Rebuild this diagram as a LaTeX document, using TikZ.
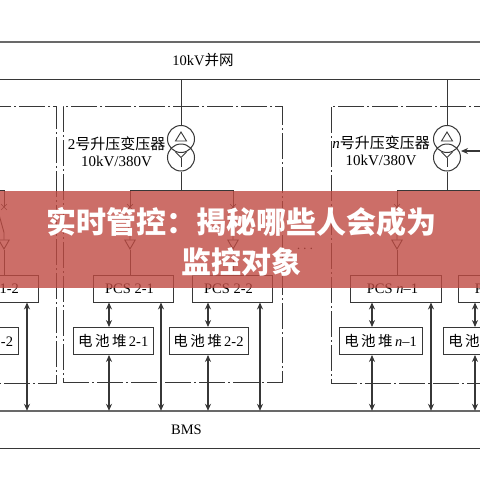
\documentclass[tikz,border=0pt]{standalone}
\usepackage{fontspec}
\usetikzlibrary{shapes.geometric,shapes.misc,arrows.meta,positioning}
\setmainfont{Liberation Serif}
\newfontfamily\cjk{Noto Sans CJK SC}
\definecolor{linegray}{RGB}{55,55,55}
\definecolor{heavygray}{RGB}{105,105,105}
\definecolor{bannerred}{RGB}{191,74,66}
\tikzstyle{wire} = [draw=linegray, line width=0.9pt]
\tikzstyle{heavy} = [draw=heavygray, line width=1.5pt]
\tikzstyle{label} = [align=center, font=\fontsize{15}{17}\selectfont, inner sep=0pt]
\tikzstyle{block} = [rectangle, draw=linegray, line width=0.9pt, align=center, inner sep=0pt,
                     minimum height=27pt, font=\fontsize{14.5}{17}\selectfont]
\tikzstyle{band} = [rectangle, inner sep=0pt, minimum width=700pt, minimum height=37pt,
                    font=\fontsize{14.5}{17}\selectfont]
\tikzstyle{groupbox} = [rectangle, draw=linegray, line width=1pt, inner sep=0pt,
                        dash pattern=on 26pt off 3pt on 2pt off 3pt]
\tikzstyle{coil} = [circle, draw=linegray, line width=1pt, inner sep=0pt, minimum size=27pt]
\tikzstyle{tip} = [regular polygon, regular polygon sides=3, shape border rotate=180,
                   draw=linegray, line width=0.9pt, inner sep=0pt, minimum size=12pt]
\tikzstyle{cross} = [cross out, draw=linegray, line width=0.7pt, inner sep=0pt, minimum size=5pt]
\tikzstyle{arrow} = [-{Stealth[length=7pt,width=6pt]}, wire, line width=1.1pt]
\tikzstyle{biarrow} = [{Stealth[length=7pt,width=6pt]}-{Stealth[length=7pt,width=6pt]}, wire, line width=1.1pt]
\begin{document}
\begin{tikzpicture}[x=1pt, y=-1pt]
    \useasboundingbox (0,0) rectangle (480,480);
    \clip (0,0) rectangle (480,480);

    % grid and BMS bands
    \node [band] (top) at (203,60.5) {10kV{\cjk 并网}};
    \node [band] (bms) at (186.5,429.5) {BMS};
    \draw [heavy] (top.north west) -- (top.north east);
    \draw [wire] (top.south west) -- (top.south east);
    \draw [heavy] (bms.north west) -- (bms.north east);
    \draw [wire] (bms.south west) -- (bms.south east);

    % station frames
    \node [groupbox, minimum width=256pt, minimum height=277pt] (grp1) at (-72,244.5) {};
    \node [groupbox, minimum width=219pt, minimum height=276pt] (grp2) at (172.5,244) {};
    \node [groupbox, minimum width=269pt, minimum height=277pt] (grpn) at (465.5,244.5) {};

    % PCS and battery stacks
    \node [block, minimum width=80pt] (pcs12) at (-2,288.5) {PCS 1-2\hspace*{7pt}};
    \node [block, minimum width=80pt] (bat12) at (-22,341) {{\cjk 电\,池\,堆\,}1-2};
    \node [block, minimum width=80pt] (pcs21) at (133,288.5) {PCS 2-1\hspace*{7pt}};
    \node [block, minimum width=79.5pt] (bat21) at (113.25,341) {{\cjk 电\,池\,堆\,}2-1};
    \node [block, minimum width=80pt] (pcs22) at (232,288.5) {PCS 2-2\hspace*{7pt}};
    \node [block, minimum width=79pt] (bat22) at (208.5,341) {{\cjk 电\,池\,堆\,}2-2};
    \node [block, minimum width=91pt] (pcsn1) at (395.5,288.5) {PCS \textit{n}--1\hspace*{6pt}};
    \node [block, minimum width=83pt] (batn1) at (380.5,341) {{\cjk 电\,池\,堆\,}\textit{n}--1};
    \node [block, minimum width=91pt] (pcsn2) at (503.5,288.5) {PCS \textit{n}--2\hspace*{6pt}};
    \node [block, minimum width=83pt] (batn2) at (484.5,341) {{\cjk 电\,池\,堆\,}\textit{n}--2};

    \foreach \p/\x in {pcs12/27, pcs21/161, pcs22/260, pcsn1/431} {
      \coordinate (tap) at (\x,0 |- bms.north);
      \draw [biarrow] (\p.south -| tap) -- (tap);
    }
    \foreach \p/\b/\x in {pcs21/bat21/109, pcs22/bat22/208, pcsn1/batn1/372, pcsn2/batn2/475} {
      \coordinate (tap) at (\x,0 |- bms.north);
      \draw [biarrow] (\p.south -| tap) -- (\b.north -| tap);
      \draw [biarrow] (\b.south -| tap) -- (tap);
    }

    % feeders from the low voltage bus
    \foreach \n/\x in {12/4, 21/130, 22/233, n1/397} {
      \coordinate (bus\n) at (\x,190);
      \node [cross] (sw\n) at (\x,207) {};
      \node [tip] (tri\n) at (\x,243) {};
      \draw [wire] (bus\n) -- (sw\n.center);
      \draw [wire] ([xshift=-5pt,yshift=25pt]tri\n.north) -- ([yshift=7pt]tri\n.north) -- (tri\n.north);
      \draw [wire] (tri\n.south) -- (tri\n.south |- pcs\n.north);
    }
    \coordinate (bus0) at (-10,190);
    \coordinate (busn2) at (490,190);
    \draw [wire] (bus0) -- (bus12);
    \draw [wire] (bus21) -- (bus22);
    \draw [wire] (busn1) -- (busn2);

    % step-up transformers
    \foreach \n/\x/\b in {2/181/bus21, n/447/busn1} {
      \node [coil] (tru\n) at (\x,139) {};
      \node [coil] (trd\n) at (\x,157.5) {};
      \draw [wire] ([shift={(0,-7)}]tru\n.center) -- ([shift={(5.5,2)}]tru\n.center)
                   -- ([shift={(-5.5,2)}]tru\n.center) -- cycle;
      \draw [wire] ([shift={(-5.5,-5.5)}]trd\n.center) -- (trd\n.center) -- ([shift={(5.5,-5.5)}]trd\n.center);
      \draw [wire] (trd\n.center) -- ([shift={(0,9)}]trd\n.center);
      \draw [wire] (tru\n.north) -- (tru\n.north |- top.south);
      \draw [wire] (trd\n.south) -- (trd\n.south |- \b);
    }
    \coordinate (ctrl) at (490,151);
    \draw [arrow] (ctrl) -- (ctrl -| trdn.east);

    \node [label] (name2) at (116.5,151.5) {2{\cjk 号升压变压器}\\10kV/380V};
    \node [label] (namen) at (381,151) {\textit{n}{\cjk 号升压变压器}\\10kV/380V};
    \node [label] (dots) at (305,249) {$\cdots$};

    % headline banner
    \node [rectangle, fill=bannerred, fill opacity=0.8, inner sep=0pt,
           minimum width=480pt, minimum height=97pt] (banner) at (240,239.5) {};
    \node [align=center, text=white, inner sep=0pt,
           font=\cjk\bfseries\fontsize{30}{40}\selectfont] (title) at (241.5,241.5) {实时管控：揭秘哪些人会成为\\监控对象};
\end{tikzpicture}
\end{document}
